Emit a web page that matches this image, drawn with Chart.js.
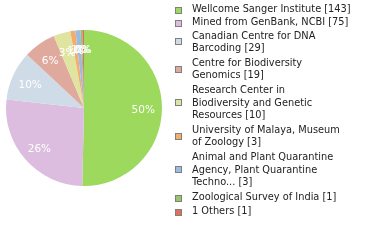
<!DOCTYPE html>
<html><head><meta charset="utf-8">
<script src="https://cdn.jsdelivr.net/npm/chart.js@4/dist/chart.umd.min.js"></script>
<style>html,body{margin:0;padding:0;background:#fff}#wrap{width:380px;height:240px;position:relative}</style>
</head><body><div id="wrap"><canvas id="c" width="380" height="240"></canvas></div>
<script>
const categories = [
  ["Wellcome Sanger Institute [143]"],
  ["Mined from GenBank, NCBI [75]"],
  ["Canadian Centre for DNA", "Barcoding [29]"],
  ["Centre for Biodiversity", "Genomics [19]"],
  ["Research Center in", "Biodiversity and Genetic", "Resources [10]"],
  ["University of Malaya, Museum", "of Zoology [3]"],
  ["Animal and Plant Quarantine", "Agency, Plant Quarantine", "Techno... [3]"],
  ["Zoological Survey of India [1]"],
  ["1 Others [1]"]
];
const values = [143, 75, 29, 19, 10, 3, 3, 1, 1];
const colors = ['#9cd95c','#dcbddf','#cfdbe6','#e0a99d','#dfe5a1','#f2ae6e','#9dbbe0','#98c46e','#e0705a'];

const total = values.reduce((a,b)=>a+b,0);

const sliceLabels = {
  id: 'sliceLabels',
  afterDatasetsDraw(chart) {
    const ctx = chart.ctx;
    const meta = chart.getDatasetMeta(0);
    ctx.save();
    ctx.font = '10.5px "DejaVu Sans"';
    ctx.fillStyle = '#fff';
    ctx.textAlign = 'center';
    ctx.textBaseline = 'middle';
    meta.data.forEach((arc, i) => {
      const p = arc.getProps(['x','y','startAngle','endAngle','outerRadius'], true);
      const mid = (p.startAngle + p.endAngle) / 2;
      const r = p.outerRadius * 0.76;
      const pct = Math.floor(values[i] / total * 100) + '%';
      ctx.fillText(pct, p.x + Math.cos(mid) * r, p.y + Math.sin(mid) * r + 1.8);
    });
    ctx.restore();
  }
};

const customLegend = {
  id: 'customLegend',
  afterDraw(chart) {
    const ctx = chart.ctx;
    ctx.save();
    ctx.font = '9.8px "DejaVu Sans"';
    ctx.textBaseline = 'middle';
    ctx.textAlign = 'left';
    const lh = 12.3;
    let y = 9;
    categories.forEach((lines, i) => {
      const n = lines.length;
      const blockMid = y + (n - 1) * lh / 2;
      const by = Math.round(blockMid + (n > 1 ? -0.5 : 1) - 3.5) + 0.5;
      ctx.fillStyle = colors[i];
      ctx.fillRect(175.5, by, 6, 6);
      ctx.strokeStyle = '#7f7f7f';
      ctx.lineWidth = 1;
      ctx.strokeRect(175.5, by, 6, 6);
      ctx.fillStyle = '#222';
      lines.forEach((t, k) => ctx.fillText(t, 192, y + k * lh));
      y += n * lh + (n > 1 ? 2.8 : 1.2);
    });
    ctx.restore();
  }
};

new Chart(document.getElementById('c'), {
  type: 'pie',
  data: {
    labels: categories.map(l => l.join(' ')),
    datasets: [{ data: values, backgroundColor: colors, borderWidth: 0 }]
  },
  options: {
    responsive: false,
    animation: false,
    layout: { padding: { left: 6, top: 30, right: 218, bottom: 54 } },
    plugins: { legend: { display: false }, tooltip: { enabled: false } }
  },
  plugins: [sliceLabels, customLegend]
});
</script>
</body></html>
